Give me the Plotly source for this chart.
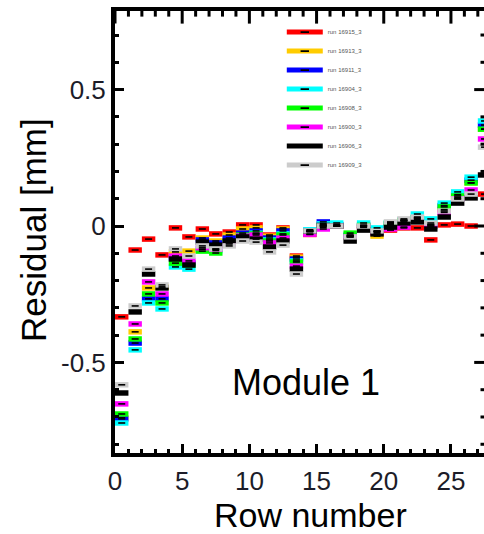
import plotly.graph_objects as go

# Row index of each detector row in the module
rows = list(range(28))

run_names = [
    "run 16915_3", "run 16913_3", "run 16911_3", "run 16904_3",
    "run 16908_3", "run 16900_3", "run 16906_3", "run 16909_3",
]
run_colors = ["#ff0000", "#ffcc00", "#0000ff", "#00ffff",
              "#00ff00", "#ff00ff", "#000000", "#cccccc"]

# Mean residual per row [mm] for each run
res_16915 = [-0.333, -0.088, -0.048, -0.106, -0.007, -0.040, -0.011, -0.029, -0.022, 0.004,
             0.004, -0.033, -0.007, -0.110, -0.031, -0.005, 0.000, -0.035, -0.005, -0.020,
             -0.015, -0.007, -0.007, -0.051, 0.004, 0.007, 0.000, 0.117]
res_16913 = [-0.703, -0.388, -0.227, -0.223, -0.095, -0.092, -0.044, -0.055, -0.033, -0.011,
             -0.007, -0.037, -0.011, -0.114, -0.020, 0.005, 0.003, -0.038, 0.000, -0.037,
             0.005, 0.018, 0.025, 0.000, 0.060, 0.105, 0.158, 0.355]
res_16911 = [-0.707, -0.429, -0.267, -0.267, -0.117, -0.136, -0.051, -0.062, -0.044, -0.026,
             -0.018, -0.044, -0.018, -0.121, -0.016, 0.015, 0.005, -0.035, 0.003, -0.020,
             0.008, 0.020, 0.028, 0.005, 0.075, 0.115, 0.168, 0.370]
res_16904 = [-0.722, -0.454, -0.282, -0.304, -0.150, -0.158, -0.085, -0.090, -0.062, -0.037,
             -0.026, -0.051, -0.029, -0.128, -0.014, 0.008, 0.011, -0.033, 0.011, -0.007,
             0.012, 0.022, 0.044, 0.026, 0.084, 0.125, 0.179, 0.385]
res_16908 = [-0.689, -0.414, -0.249, -0.282, -0.136, -0.143, -0.092, -0.099, -0.059, -0.033,
             -0.029, -0.055, -0.033, -0.132, -0.021, 0.000, 0.000, -0.026, 0.002, -0.020,
             0.010, 0.020, 0.030, 0.005, 0.070, 0.110, 0.158, 0.355]
res_16900 = [-0.652, -0.359, -0.205, -0.249, -0.110, -0.128, -0.080, -0.085, -0.066, -0.037,
             -0.033, -0.062, -0.044, -0.147, -0.030, -0.011, 0.000, -0.040, -0.003, -0.025,
             -0.011, -0.004, 0.020, 0.000, 0.050, 0.100, 0.132, 0.319]
res_16906 = [-0.612, -0.315, -0.176, -0.227, -0.121, -0.143, -0.059, -0.070, -0.055, -0.040,
             -0.048, -0.077, -0.055, -0.158, -0.019, 0.002, 0.000, -0.055, -0.015, -0.029,
             -0.004, 0.011, 0.015, -0.011, 0.033, 0.084, 0.103, 0.187]
res_16909 = [-0.582, -0.293, -0.158, -0.216, -0.084, -0.110, -0.073, -0.084, -0.073, -0.055,
             -0.059, -0.095, -0.070, -0.176, -0.018, 0.000, 0.000, -0.040, 0.000, -0.018,
             0.015, 0.026, 0.033, 0.011, 0.055, 0.099, 0.117, 0.289]

residuals = [res_16915, res_16913, res_16911, res_16904,
             res_16908, res_16900, res_16906, res_16909]

# Half height of the uncertainty box around each mean [mm]
BOX_HALF = 0.010

x_tick_vals = [0, 5, 10, 15, 20, 25]
y_tick_vals = [-0.5, 0, 0.5]
y_tick_text = ["-0.5", "0", "0.5"]

FONT = "Liberation Sans, Arial, sans-serif"
TICK_COLOR = "#1c1c28"

x_range = [0, 27.46]
y_range = [-0.832, 0.8027]
# inner edge of the top frame (the frame itself is 4 px thick above it)
y_frame_inner = 0.788

fig = go.Figure()

bin_centers = [r + 0.5 for r in rows]
for name, color, vals in zip(run_names, run_colors, residuals):
    # error box spanning the whole row bin
    fig.add_trace(go.Bar(
        x=bin_centers,
        y=[2 * BOX_HALF] * len(vals),
        base=[v - BOX_HALF for v in vals],
        width=1,
        marker=dict(color=color, line=dict(width=0)),
        showlegend=False,
    ))
    # central value marker
    fig.add_trace(go.Scatter(
        x=bin_centers, y=vals, mode="markers",
        marker=dict(symbol="line-ew", size=5,
                    line=dict(color="black", width=1.6)),
        showlegend=False, name=name,
    ))

# Top frame line (clipped to the plot area, so half of its width shows)
fig.add_trace(go.Scatter(
    x=x_range, y=[y_range[1], y_range[1]], mode="lines",
    line=dict(color="black", width=8),
    showlegend=False, hoverinfo="skip",
))
# Inward ticks hanging from the top frame: every row, longer every fifth
top_major = [r for r in rows if r % 5 == 0]
top_minor = [r for r in rows if r % 5 != 0]
for xs, size in ((top_major, 18), (top_minor, 8)):
    fig.add_trace(go.Scatter(
        x=xs, y=[y_frame_inner] * len(xs), mode="markers",
        marker=dict(symbol="line-ns", size=size,
                    line=dict(color="black", width=3)),
        showlegend=False, hoverinfo="skip",
    ))
# Inward ticks along the right edge: every 0.1 mm, longer every 0.5 mm
right_vals = [k / 10 for k in range(-8, 8)]
right_major = [v for v in right_vals if round(v * 10) % 5 == 0]
right_minor = [v for v in right_vals if round(v * 10) % 5 != 0]
for ys, size in ((right_major, 14), (right_minor, 5)):
    fig.add_trace(go.Scatter(
        x=[x_range[1]] * len(ys), y=ys, mode="markers",
        marker=dict(symbol="line-ew", size=size,
                    line=dict(color="black", width=3)),
        showlegend=False, hoverinfo="skip",
    ))

# legend entries: coloured box with the central marker
for name, color in zip(run_names, run_colors):
    fig.add_trace(go.Scatter(
        x=[None], y=[None], mode="lines+markers", name=name,
        line=dict(color=color, width=5),
        marker=dict(symbol="line-ew", size=6, color="black",
                    line=dict(color="black", width=1.6)),
    ))

PLOT_TOP, PLOT_BOTTOM = 7, 453
plot_h = PLOT_BOTTOM - PLOT_TOP


def paper_y(py):
    return (PLOT_BOTTOM - py) / plot_h


def paper_x(px):
    return (px - 115) / 369


fig.update_layout(
    width=484, height=534,
    margin=dict(l=115, r=0, t=PLOT_TOP, b=534 - PLOT_BOTTOM),
    paper_bgcolor="white", plot_bgcolor="white",
    barmode="overlay",
    xaxis=dict(
        range=x_range,
        showline=True, linewidth=4, linecolor="black",
        ticks="inside", ticklen=9, tickwidth=3, tickcolor="black",
        tickmode="array", tickvals=x_tick_vals,
        minor=dict(dtick=1, ticks="inside", ticklen=4,
                   tickwidth=3, tickcolor="black"),
        tickfont=dict(size=26, color=TICK_COLOR, family=FONT),
        ticklabelstandoff=2,
    ),
    yaxis=dict(
        range=y_range,
        showline=True, linewidth=4, linecolor="black",
        ticks="inside", ticklen=9, tickwidth=3, tickcolor="black",
        tickmode="array", tickvals=y_tick_vals, ticktext=y_tick_text,
        minor=dict(dtick=0.1, ticks="inside", ticklen=4,
                   tickwidth=3, tickcolor="black"),
        tickfont=dict(size=26, color=TICK_COLOR, family=FONT),
    ),
    legend=dict(
        x=0.452, y=paper_y(17.6), xanchor="left", yanchor="top",
        font=dict(size=6, color="#555555", family=FONT),
        bgcolor="rgba(0,0,0,0)", itemwidth=36, tracegroupgap=0,
    ),
    annotations=[
        dict(text="Residual [mm]", xref="paper", yref="paper",
             x=paper_x(33), y=paper_y(230), textangle=-90,
             xanchor="center", yanchor="middle", showarrow=False,
             font=dict(size=35, color="black", family=FONT)),
        dict(text="Row number", xref="paper", yref="paper",
             x=paper_x(310), y=paper_y(515), xanchor="center", yanchor="middle",
             showarrow=False, font=dict(size=34, color="black", family=FONT)),
        dict(text="Module 1", xref="paper", yref="paper",
             x=paper_x(306), y=paper_y(382), xanchor="center", yanchor="middle",
             showarrow=False, font=dict(size=36, color="black", family=FONT)),
    ],
)

fig.write_html("out.html")
